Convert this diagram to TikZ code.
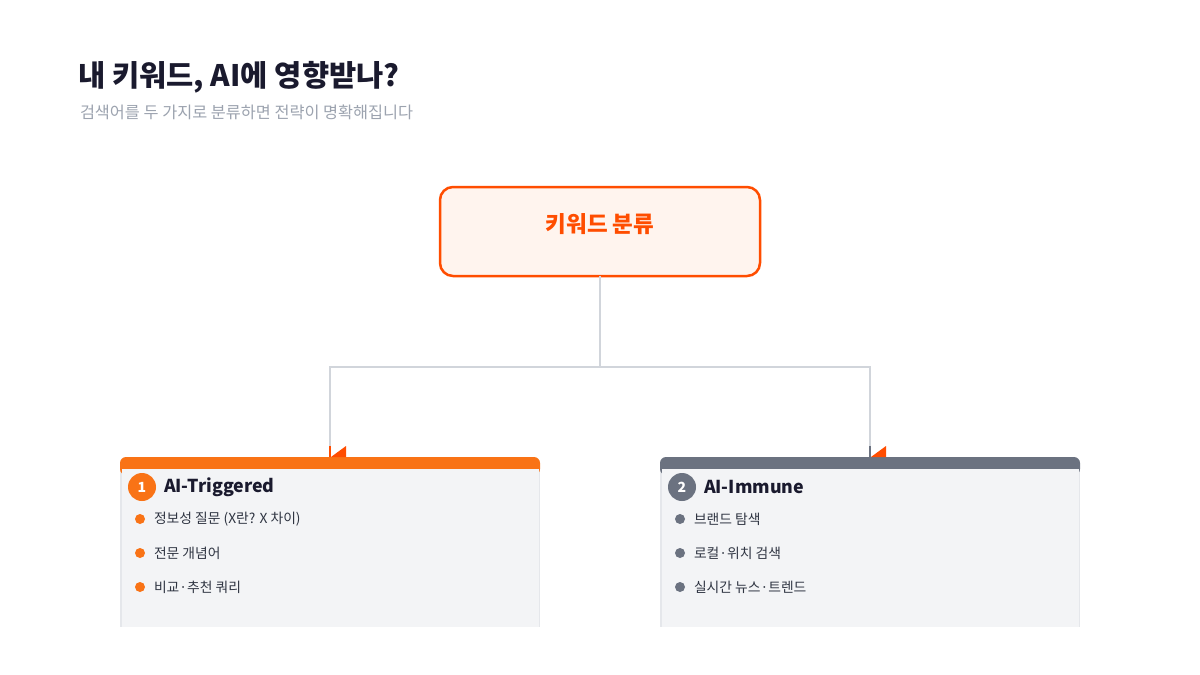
\documentclass[tikz,border=0pt]{standalone}
\usepackage{fontspec}
\setmainfont{Noto Sans CJK KR}
\definecolor{ink}{HTML}{1A1A2E}
\definecolor{subgray}{HTML}{9CA3AF}
\definecolor{hot}{HTML}{FF4D00}
\definecolor{rootfill}{HTML}{FFF4EE}
\definecolor{band1}{HTML}{F97316}
\definecolor{band2}{HTML}{6B7280}
\definecolor{cardfill}{HTML}{F3F4F6}
\definecolor{cardedge}{HTML}{E5E7EB}
\definecolor{wire}{HTML}{D1D5DB}
\definecolor{itemtxt}{HTML}{2F3542}
\begin{document}
\begin{tikzpicture}[x=1pt,y=-1pt,
  every node/.style={inner sep=0pt,outer sep=0pt},
  titletxt/.style={anchor=west,font=\fontsize{29.6}{32}\selectfont\bfseries,text=ink},
  subtxt/.style={anchor=west,font=\fontsize{16.3}{19}\selectfont,text=subgray},
  rootbox/.style={draw=hot,line width=2.5pt,fill=rootfill,rounded corners=13pt,minimum width=320pt,minimum height=89pt},
  roottxt/.style={font=\fontsize{22.5}{26}\selectfont\bfseries,text=hot},
  wireline/.style={draw=wire,line width=2pt},
  badge/.style={circle,minimum size=28pt,text=white,font=\fontsize{14}{16}\selectfont\bfseries},
  cardtitle/.style={anchor=west,font=\fontsize{17.8}{21}\selectfont\bfseries,text=ink},
  itemtxt/.style={anchor=west,font=\fontsize{13.8}{16}\selectfont,text=itemtxt},
  dot/.style={circle,minimum size=10pt},
]
\useasboundingbox (0,0) rectangle (1200,675);
\fill[white] (0,0) rectangle (1200,675);

% titles
\node[titletxt] (title) at (78,77) {내 키워드, AI에 영향받나?};
\node[subtxt] (sub) at (80,112) {검색어를 두 가지로 분류하면 전략이 명확해집니다};

% root
\node[rootbox] (root) at (600,231.5) {};
\node[roottxt] (roottext) at (600,224) {키워드 분류};

% cards
\foreach \cx/\bandcol in {120/band1,660/band2}{
  \fill[cardfill] (\cx,462) rectangle (\cx+420,627);
  \draw[cardedge,line width=1.5pt] (\cx+0.75,462) -- (\cx+0.75,627);
  \draw[cardedge,line width=1.5pt] (\cx+419.25,462) -- (\cx+419.25,627);
  \fill[\bandcol,rounded corners=6pt] (\cx,457) rectangle (\cx+420,475);
  \fill[cardfill] (\cx+1.5,468.5) rectangle (\cx+418.5,476);
}

% connectors
\coordinate (split) at (600,367);
\coordinate (endA) at (330,446);
\coordinate (endB) at (870,446);
\draw[wireline] (root.south) -- (split);
\draw[wireline] (split) -| (endA);
\draw[wireline] (split) -| (endB);
% tips
\fill[hot] (329,446) rectangle (331,457);
\fill[hot] (331,457) -- (346,457) -- (346,446) -- cycle;
\fill[band2] (869,446) rectangle (871,457);
\fill[hot] (871,457) -- (886,457) -- (886,446) -- cycle;

% left card content
\node[badge,fill=band1] (b1) at (142,487) {1};
\node[cardtitle] (t1) at (164,487) {AI-Triggered};
\node[dot,fill=band1] (d11) at (140,519) {};
\node[itemtxt] (i11) at (154,519) {정보성 질문 (X란? X 차이)};
\node[dot,fill=band1] (d12) at (140,553) {};
\node[itemtxt] (i12) at (154,553) {전문 개념어};
\node[dot,fill=band1] (d13) at (140,587) {};
\node[itemtxt] (i13) at (154,587) {비교·추천 쿼리};

% right card content
\node[badge,fill=band2] (b2) at (682,487) {2};
\node[cardtitle] (t2) at (704,487) {AI-Immune};
\node[dot,fill=band2] (d21) at (680,519) {};
\node[itemtxt] (i21) at (694,519) {브랜드 탐색};
\node[dot,fill=band2] (d22) at (680,553) {};
\node[itemtxt] (i22) at (694,553) {로컬·위치 검색};
\node[dot,fill=band2] (d23) at (680,587) {};
\node[itemtxt] (i23) at (694,587) {실시간 뉴스·트렌드};
\end{tikzpicture}
\end{document}
